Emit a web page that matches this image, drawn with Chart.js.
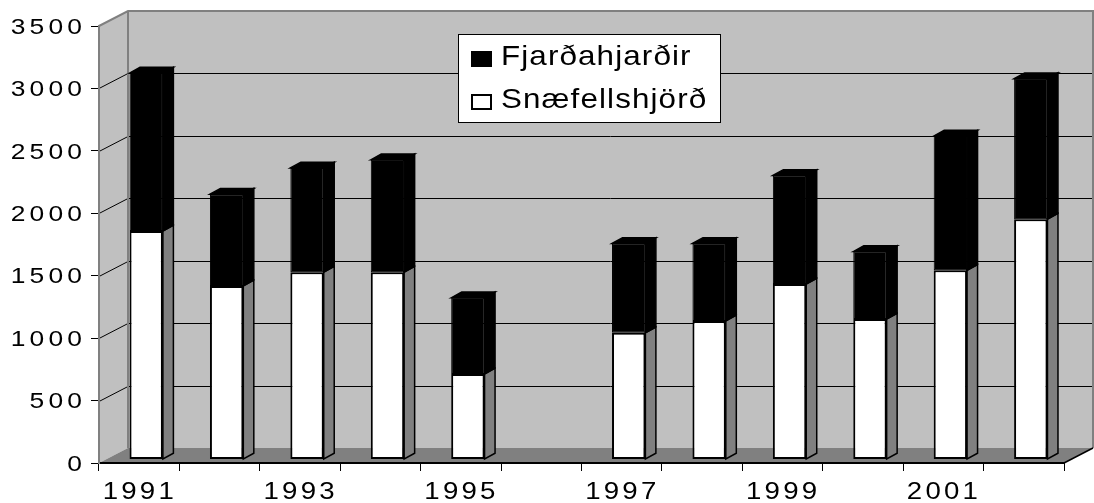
<!DOCTYPE html>
<html>
<head>
<meta charset="utf-8">
<script src="https://cdn.jsdelivr.net/npm/chart.js@4/dist/chart.umd.min.js"></script>
<style>
html, body { margin: 0; padding: 0; background: #fff; }
canvas { display: block; }
</style>
</head>
<body>
<canvas id="chart" width="1094" height="503"></canvas>
<script>
// gögn lesin af myndinni
const categories = ['1991','1992','1993','1994','1995','1996','1997','1998','1999','2000','2001','2002'];
const xTickLabels = ['1991','','1993','','1995','','1997','','1999','','2001',''];
const snaefellshjord = [1830, 1390, 1500, 1500, 685, null, 1015, 1110, 1405, 1125, 1515, 1925];
const fjardahjardir = [1265, 735, 835, 900, 610, null, 715, 620, 870, 540, 1075, 1125];
const yMin = 0, yMax = 3500, yStep = 500;

// þrívíddar útlit
const wall = { dx: 29, dy: 15 };
const barShift = { dx: 7, dy: 3.5 };
const barDepth = { dx: 10.5, dy: 5.8 };
const font = '"Liberation Sans", Arial, sans-serif';

function poly(ctx, pts) {
	ctx.beginPath();
	ctx.moveTo(pts[0][0], pts[0][1]);
	for (let i = 1; i < pts.length; i++) ctx.lineTo(pts[i][0], pts[i][1]);
	ctx.closePath();
}

// texti með bili milli stafa, eins og í gamla Excel
function spacedText(ctx, text, x, y, align, sx, gap) {
	const chars = Array.from(text);
	const adv = chars.map(c => ctx.measureText(c).width + gap);
	const total = adv.reduce((s, v) => s + v, 0) - gap;
	ctx.save();
	ctx.translate(x, y);
	ctx.scale(sx, 1);
	ctx.textAlign = 'left';
	ctx.textBaseline = 'alphabetic';
	let cx = align === 'right' ? -total : align === 'center' ? -total / 2 : 0;
	chars.forEach((c, i) => {
		ctx.fillText(c, cx, 0);
		cx += adv[i];
	});
	ctx.restore();
}

// veggir, gólf og hnitalínur
const walls = {
	id: 'walls',
	beforeDraw(chart) {
		const ctx = chart.ctx, a = chart.chartArea, y = chart.scales.y;
		ctx.save();
		ctx.fillStyle = '#fff';
		ctx.fillRect(0, 0, chart.width, chart.height);

		// bakveggur
		poly(ctx, [[a.left + wall.dx, a.top - wall.dy], [a.right + wall.dx, a.top - wall.dy],
			[a.right + wall.dx, a.bottom - wall.dy], [a.left + wall.dx, a.bottom - wall.dy]]);
		ctx.fillStyle = '#c0c0c0';
		ctx.fill();
		// vinstri veggur
		poly(ctx, [[a.left, a.bottom], [a.left, a.top], [a.left + wall.dx, a.top - wall.dy], [a.left + wall.dx, a.bottom - wall.dy]]);
		ctx.fill();
		// gólf
		poly(ctx, [[a.left, a.bottom], [a.right, a.bottom], [a.right + wall.dx, a.bottom - wall.dy], [a.left + wall.dx, a.bottom - wall.dy]]);
		ctx.fillStyle = '#808080';
		ctx.fill();

		// hnitalínur
		ctx.strokeStyle = '#000';
		ctx.lineWidth = 1;
		y.ticks.forEach(t => {
			if (t.value <= yMin || t.value >= yMax) return;
			const py = Math.round(y.getPixelForValue(t.value)) + 0.5;
			ctx.beginPath();
			ctx.moveTo(a.left, py);
			ctx.lineTo(a.left + wall.dx, py - wall.dy);
			ctx.lineTo(a.right + wall.dx, py - wall.dy);
			ctx.stroke();
		});

		// brúnir veggja
		ctx.strokeStyle = '#808080';
		ctx.lineWidth = 2;
		ctx.beginPath();
		ctx.moveTo(a.left, a.top);
		ctx.lineTo(a.left + wall.dx, a.top - wall.dy);
		ctx.lineTo(a.right + wall.dx, a.top - wall.dy);
		ctx.lineTo(a.right + wall.dx, a.bottom - wall.dy);
		ctx.moveTo(a.left + wall.dx, a.top - wall.dy);
		ctx.lineTo(a.left + wall.dx, a.bottom - wall.dy);
		ctx.stroke();

		// hægri brún gólfs
		ctx.strokeStyle = '#000';
		ctx.lineWidth = 1.5;
		ctx.beginPath();
		ctx.moveTo(a.right, a.bottom);
		ctx.lineTo(a.right + wall.dx, a.bottom - wall.dy);
		ctx.stroke();
		ctx.restore();
	}
};

// hliðar og toppar súlna
const bars3d = {
	id: 'bars3d',
	beforeDatasetsDraw(chart) {
		const ctx = chart.ctx;
		ctx.save();
		ctx.translate(barShift.dx, -barShift.dy);
		const last = chart.data.datasets.length - 1;
		chart.data.datasets.forEach((ds, di) => {
			const meta = chart.getDatasetMeta(di);
			meta.data.forEach((el, i) => {
				if (ds.data[i] == null) return;
				const l = el.x - el.width / 2, r = el.x + el.width / 2;
				const top = el.y, bot = el.base;
				ctx.lineWidth = 1.5;
				ctx.strokeStyle = '#000';
				poly(ctx, [[r, top], [r + barDepth.dx, top - barDepth.dy], [r + barDepth.dx, bot - barDepth.dy], [r, bot]]);
				ctx.fillStyle = ds.sideColor;
				ctx.fill();
				ctx.stroke();
				if (di === last) {
					poly(ctx, [[l, top], [l + barDepth.dx, top - barDepth.dy], [r + barDepth.dx, top - barDepth.dy], [r, top]]);
					ctx.fillStyle = '#000';
					ctx.fill();
					ctx.stroke();
				}
			});
		});
	},
	afterDatasetsDraw(chart) {
		chart.ctx.restore();
	}
};

// ás-merki og skýringar
const labels = {
	id: 'labels',
	afterDraw(chart) {
		const ctx = chart.ctx, x = chart.scales.x, y = chart.scales.y, a = chart.chartArea;
		ctx.save();
		ctx.fillStyle = '#000';
		ctx.font = '22px ' + font;
		y.ticks.forEach(t => {
			spacedText(ctx, String(t.value), a.left - 17, y.getPixelForValue(t.value) + 7.7, 'right', 1.2, 3.5);
		});
		ctx.font = '23px ' + font;
		xTickLabels.forEach((lab, i) => {
			if (!lab) return;
			spacedText(ctx, lab, x.getPixelForValue(i) - 1, 499, 'center', 1.2, 2.7);
		});

		// skýringarkassi
		ctx.fillStyle = '#fff';
		ctx.fillRect(458, 34, 262, 88);
		ctx.strokeStyle = '#000';
		ctx.lineWidth = 1;
		ctx.strokeRect(458.5, 34.5, 262, 88);
		const items = chart.data.datasets.slice().reverse();
		items.forEach((ds, k) => {
			const top = 51 + k * 43;
			ctx.fillStyle = ds.backgroundColor;
			ctx.fillRect(471, top, 21, 16);
			ctx.lineWidth = 2;
			ctx.strokeStyle = '#000';
			ctx.strokeRect(472, top + 1, 19, 14);
			ctx.fillStyle = '#000';
			ctx.font = '28px ' + font;
			spacedText(ctx, ds.label, 501, top + 14, 'left', 1.12, 1);
		});
		ctx.restore();
	}
};

new Chart(document.getElementById('chart'), {
	type: 'bar',
	data: {
		labels: categories,
		datasets: [
			{
				label: 'Snæfellshjörð',
				data: snaefellshjord,
				backgroundColor: '#fff',
				borderColor: '#000',
				borderWidth: 2,
				borderSkipped: false,
				sideColor: '#808080'
			},
			{
				label: 'Fjarðahjarðir',
				data: fjardahjardir,
				backgroundColor: '#000',
				borderColor: '#000',
				borderWidth: 1,
				borderSkipped: false,
				sideColor: '#000'
			}
		]
	},
	options: {
		responsive: false,
		animation: false,
		devicePixelRatio: 1,
		layout: { padding: { top: 26, right: 30, left: 0, bottom: 0 } },
		datasets: { bar: { barPercentage: 0.415, categoryPercentage: 1, clip: false } },
		plugins: { legend: { display: false }, tooltip: { enabled: false } },
		scales: {
			x: {
				stacked: true,
				offset: true,
				grid: { offset: true, drawOnChartArea: false, drawTicks: true, tickLength: 8, tickColor: '#000' },
				border: { color: '#000', width: 2 },
				ticks: { display: false },
				afterFit: s => { s.height = 40; }
			},
			y: {
				stacked: true,
				min: yMin,
				max: yMax,
				ticks: { display: false, stepSize: yStep },
				grid: { drawOnChartArea: false, drawTicks: true, tickLength: 8, tickColor: '#000' },
				border: { color: '#808080', width: 2 },
				afterFit: s => { s.width = 99; }
			}
		}
	},
	plugins: [walls, bars3d, labels]
});
</script>
</body>
</html>
